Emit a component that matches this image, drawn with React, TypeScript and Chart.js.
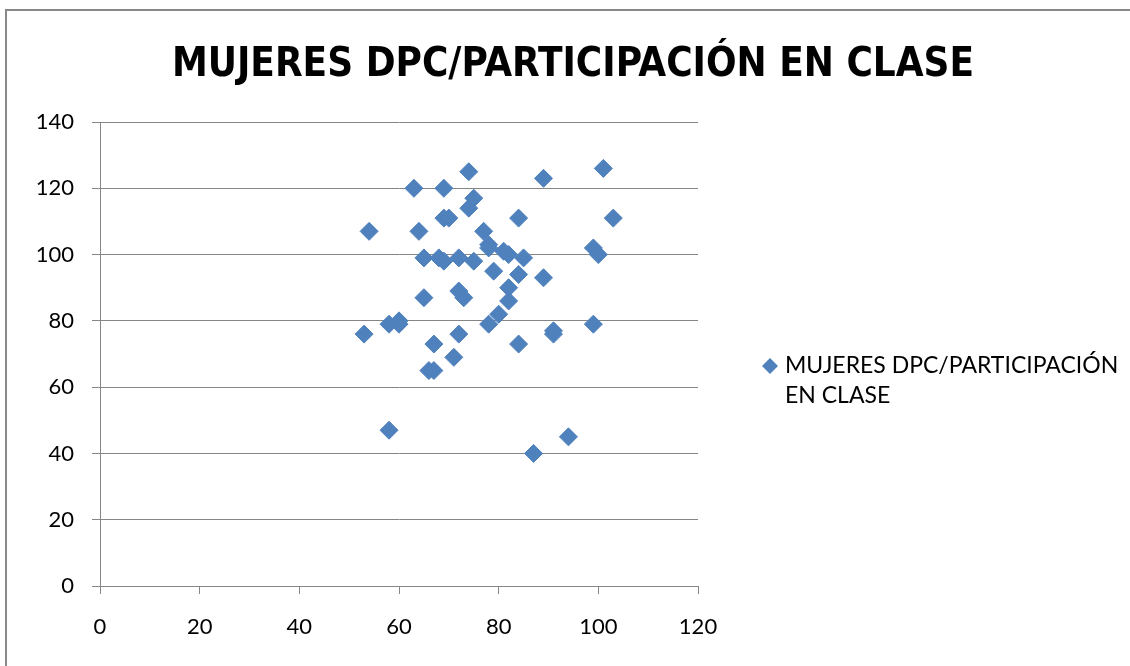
import React, { useEffect, useRef } from "react";
import { Chart, registerables } from "chart.js";

Chart.register(...registerables);

const chartTitle = "MUJERES DPC/PARTICIPACIÓN EN CLASE";
const seriesLabel = "MUJERES DPC/PARTICIPACIÓN EN CLASE";

const xValues = [
  54, 53, 58, 60, 60, 58, 63, 64, 65, 65, 66, 67, 67, 69, 69, 70, 68, 69,
  71, 72, 72, 73, 72, 74, 75, 74, 75, 77, 78, 78, 79, 78, 80, 81, 82, 82,
  82, 84, 84, 84, 85, 87, 89, 89, 91, 91, 94, 99, 100, 99, 101, 103,
];
const yValues = [
  107, 76, 79, 80, 79, 47, 120, 107, 99, 87, 65, 65, 73, 120, 111, 111, 99, 98,
  69, 76, 89, 87, 99, 125, 117, 114, 98, 107, 103, 102, 95, 79, 82, 101, 100, 90,
  86, 111, 94, 73, 99, 40, 123, 93, 77, 76, 45, 102, 100, 79, 126, 111,
];

const xTicks = [0, 20, 40, 60, 80, 100, 120];
const yTicks = [0, 20, 40, 60, 80, 100, 120, 140];

const MARKER = "#4F81BD";
const GRID = "#868686";

const legendPlugin = {
  id: "sideLegend",
  afterDraw(chart: any) {
    const { ctx, chartArea } = chart;
    const ds = chart.data.datasets[0];
    const cx = chartArea.right + 72;
    const cy = 366;
    const r = 8;
    ctx.save();
    ctx.fillStyle = MARKER;
    ctx.beginPath();
    ctx.moveTo(cx - r, cy);
    ctx.lineTo(cx, cy - r);
    ctx.lineTo(cx + r, cy);
    ctx.lineTo(cx, cy + r);
    ctx.closePath();
    ctx.fill();
    ctx.font = "23px Lato, 'Open Sans', sans-serif";
    ctx.fillStyle = "#000";
    ctx.textBaseline = "middle";
    ctx.textAlign = "left";
    const maxW = 340;
    const words = String(ds.label).split(" ");
    const lines: string[] = [];
    let cur = "";
    for (const w of words) {
      const t = cur ? cur + " " + w : w;
      if (ctx.measureText(t).width > maxW && cur) {
        lines.push(cur);
        cur = w;
      } else cur = t;
    }
    if (cur) lines.push(cur);
    const tx = chartArea.right + 87;
    lines.forEach((l, i) => ctx.fillText(l, tx, cy + i * 30));
    ctx.restore();
  },
};

export default function App() {
  const ref = useRef<HTMLCanvasElement | null>(null);

  useEffect(() => {
    if (!ref.current) return;
    const data = xValues.map((x, i) => ({ x, y: yValues[i] }));
    const chart = new Chart(ref.current, {
      type: "scatter",
      data: {
        datasets: [
          {
            label: seriesLabel,
            data,
            pointStyle: "rectRot",
            pointRadius: 9,
            pointHoverRadius: 9,
            backgroundColor: MARKER,
            borderColor: MARKER,
            borderWidth: 1,
          },
        ],
      },
      options: {
        animation: false,
        responsive: false,
        events: [],
        layout: { padding: { left: 16, right: 0, top: 0, bottom: 0 } },
        plugins: {
          legend: { display: false },
          tooltip: { enabled: false },
          title: {
            display: true,
            text: chartTitle,
            color: "#000",
            font: {
              family: "'Liberation Sans Narrow', 'DejaVu Sans Condensed', Lato, sans-serif",
              size: 40,
              weight: "bold",
              lineHeight: 1.2,
            },
            padding: { top: 42, bottom: 32 },
          },
        },
        scales: {
          x: {
            type: "linear",
            position: "bottom",
            min: 0,
            max: 120,
            afterBuildTicks: (s: any) => {
              s.ticks = xTicks.map((v) => ({ value: v }));
            },
            afterFit: (s: any) => {
              s.height = 80;
            },
            grid: {
              drawOnChartArea: false,
              drawTicks: true,
              tickLength: 8,
              color: GRID,
              lineWidth: 1,
            },
            border: { display: true, color: GRID, width: 1 },
            ticks: {
              color: "#000",
              padding: 20,
              font: { family: "Lato, 'Open Sans', sans-serif", size: 22 },
            },
          },
          y: {
            type: "linear",
            position: "left",
            min: 0,
            max: 140,
            afterBuildTicks: (s: any) => {
              s.ticks = yTicks.map((v) => ({ value: v }));
            },
            afterFit: (s: any) => {
              s.width = 84;
            },
            grid: {
              drawOnChartArea: true,
              drawTicks: true,
              tickLength: 8,
              color: GRID,
              lineWidth: 1,
            },
            border: { display: true, color: GRID, width: 1 },
            ticks: {
              color: "#000",
              padding: 18,
              font: { family: "Lato, 'Open Sans', sans-serif", size: 22 },
            },
          },
          spacer: {
            type: "linear",
            position: "right",
            display: true,
            grid: { display: false, drawTicks: false },
            border: { display: false },
            ticks: { display: false },
            afterFit: (s: any) => {
              s.width = 432;
            },
          },
        },
      },
      plugins: [legendPlugin],
    });
    return () => chart.destroy();
  }, []);

  return (
    <div
      style={{
        position: "fixed",
        left: 0,
        top: 0,
        width: 1130,
        height: 666,
        overflow: "hidden",
        background: "#fff",
      }}
    >
      <div
        style={{
          position: "absolute",
          left: 5,
          top: 9,
          width: 1300,
          height: 900,
          border: "2px solid #898989",
        }}
      />
      <canvas
        ref={ref}
        width={1130}
        height={666}
        style={{ position: "absolute", left: 0, top: 0, width: 1130, height: 666 }}
      />
    </div>
  );
}
